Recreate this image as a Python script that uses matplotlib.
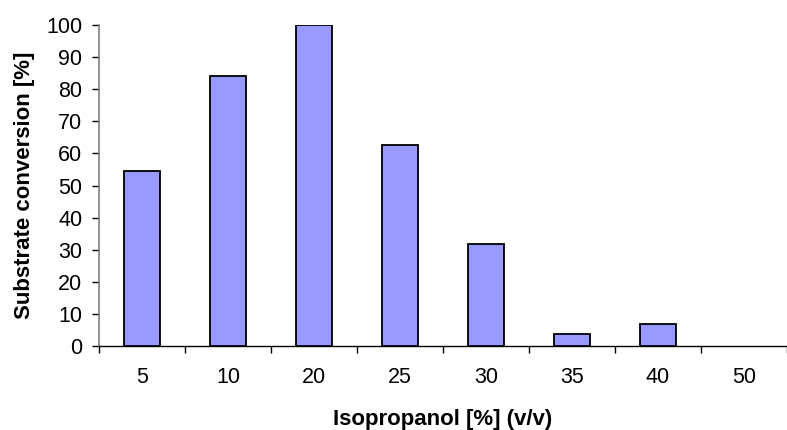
import matplotlib
matplotlib.use("Agg")
import matplotlib.pyplot as plt
import numpy as np

categories = ["5", "10", "20", "25", "30", "35", "40", "50"]
conversion = [54.5, 84.0, 100.0, 62.6, 31.7, 3.7, 6.9, 0.0]
yticks = [0, 10, 20, 30, 40, 50, 60, 70, 80, 90, 100]

plt.rcParams['font.family'] = ['Liberation Sans', 'DejaVu Sans']

fig = plt.figure(figsize=(7.87, 4.30), dpi=100)
ax = fig.add_axes([99/787, 1-346/430, 1-99/787, (346-25)/430])

x = np.arange(len(categories))
edges = ['black' if v > 0 else 'none' for v in conversion]
ax.bar(x, conversion, width=0.42, color='#9999FF', edgecolor=edges, linewidth=1.3, zorder=3)

ax.set_xlim(-0.5, len(categories) - 0.5)
ax.set_ylim(0, 100)
ax.set_yticks(yticks)
ax.tick_params(axis='y', direction='out', length=5, width=1, pad=7, labelsize=15.5, color='black')

ax.set_xticks(np.arange(len(categories) + 1) - 0.5)
ax.set_xticklabels([])
ax.set_xticks(x, minor=True)
ax.set_xticklabels(categories, minor=True)
ax.tick_params(axis='x', which='major', direction='out', length=5, width=1, color='black')
ax.tick_params(axis='x', which='minor', length=0, pad=15, labelsize=15.5)

for s in ['top', 'right']:
    ax.spines[s].set_visible(False)
ax.spines['left'].set_color('#808080')
ax.spines['left'].set_linewidth(1.2)
ax.spines['bottom'].set_color('black')
ax.spines['bottom'].set_linewidth(1.0)

ax.set_ylabel('Substrate conversion [%]', fontsize=16, fontweight='bold', labelpad=8)
ax.set_xlabel('Isopropanol [%] (v/v)', fontsize=16, fontweight='bold', labelpad=15)

fig.savefig('out.png', dpi=100)
